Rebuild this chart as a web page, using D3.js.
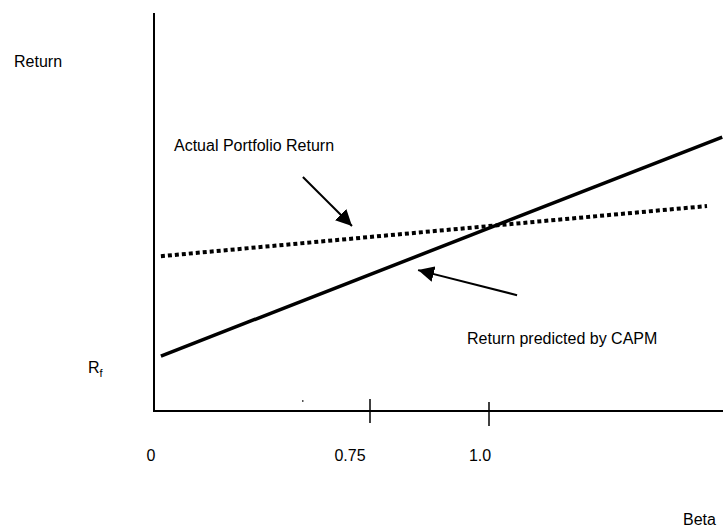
<!DOCTYPE html>
<html>
<head>
<meta charset="utf-8">
<script src="https://cdn.jsdelivr.net/npm/d3@7"></script>
<style>
  html, body { margin: 0; padding: 0; background: #fff; }
  svg text { font-family: "Liberation Sans", Arial, sans-serif; fill: #000; }
</style>
</head>
<body>
<svg id="chart" width="723" height="529"></svg>
<script>
// ---- data ----
const betaTicks = [0.75, 1.0];
const tickLabelBetas = [0, 0.75, 1.0];
const tickLabels = ["0", "0.75", "1.0"];
const capmBeta = [0.024, 1.49];
const capmReturn = [13.8, 68.8];
const actualBeta = [0.024, 1.458];
const actualReturn = [38.9, 51.5];
const arrowTail = [[0.517, 58.8], [1.059, 29.1]];
const arrowTip = [[0.6875, 46.5], [0.851, 35.4]];
const annotations = ["Actual Portfolio Return", "Return predicted by CAPM"];

// ---- scales (schematic, piecewise) ----
const x = d3.scaleLinear().domain([0, 0.75, 1.0, 1.5]).range([154, 370, 489, 727]);
const y = d3.scaleLinear().domain([0, 100]).range([411, 13]);

const svg = d3.select("#chart");

svg.append("defs").append("marker")
  .attr("id", "head").attr("viewBox", "0 0 10 10")
  .attr("refX", 10).attr("refY", 5)
  .attr("markerWidth", 8).attr("markerHeight", 8)
  .attr("markerUnits", "strokeWidth")
  .attr("orient", "auto")
  .append("path").attr("d", "M0,0 L10,5 L0,10 Z").attr("fill", "#000");

// axes
svg.append("line").attr("x1", x(0)).attr("x2", x(0)).attr("y1", y(100)).attr("y2", y(0))
  .attr("stroke", "#000").attr("stroke-width", 2);
svg.append("line").attr("x1", x(0) - 1).attr("x2", 723).attr("y1", y(0)).attr("y2", y(0))
  .attr("stroke", "#000").attr("stroke-width", 2);

svg.selectAll(".tick").data(betaTicks).enter().append("line")
  .attr("x1", d => x(d)).attr("x2", d => x(d))
  .attr("y1", (d, i) => y(0) - 12 + i * 3).attr("y2", (d, i) => y(0) + 12 + i * 3)
  .attr("stroke", "#000").attr("stroke-width", 1.5);

const labelDx = [-3, -20, -9];
svg.selectAll(".tl").data(tickLabelBetas).enter().append("text")
  .attr("x", (d, i) => x(d) + labelDx[i]).attr("y", 461)
  .attr("text-anchor", "middle").attr("font-size", 16)
  .text((d, i) => tickLabels[i]);

// tiny stray dot
svg.append("rect").attr("x", 302).attr("y", 400).attr("width", 1.5).attr("height", 2).attr("fill", "#555");

// axis titles
svg.append("text").attr("x", 14).attr("y", 67).attr("font-size", 16).text("Return");
svg.append("text").attr("x", 683).attr("y", 525).attr("font-size", 16).text("Beta");
const rf = svg.append("text").attr("x", 88).attr("y", 373).attr("font-size", 16);
rf.append("tspan").text("R");
rf.append("tspan").attr("font-size", 11).attr("dy", 4).text("f");

// lines
const line = d3.line().x(d => x(d[0])).y(d => y(d[1]));
svg.append("path").datum(capmBeta.map((b, i) => [b, capmReturn[i]]))
  .attr("d", line).attr("fill", "none").attr("stroke", "#000").attr("stroke-width", 3.5);
svg.append("path").datum(actualBeta.map((b, i) => [b, actualReturn[i]]))
  .attr("d", line).attr("fill", "none").attr("stroke", "#000").attr("stroke-width", 4)
  .attr("stroke-dasharray", "4,3");

// arrows
svg.selectAll(".arrow").data(arrowTail).enter().append("line")
  .attr("x1", d => x(d[0])).attr("y1", d => y(d[1]))
  .attr("x2", (d, i) => x(arrowTip[i][0])).attr("y2", (d, i) => y(arrowTip[i][1]))
  .attr("stroke", "#000").attr("stroke-width", 2)
  .attr("marker-end", "url(#head)");

// annotations
svg.append("text").attr("x", 174).attr("y", 151).attr("font-size", 16).text(annotations[0]);
svg.append("text").attr("x", 467).attr("y", 344).attr("font-size", 16).text(annotations[1]);
</script>
</body>
</html>
